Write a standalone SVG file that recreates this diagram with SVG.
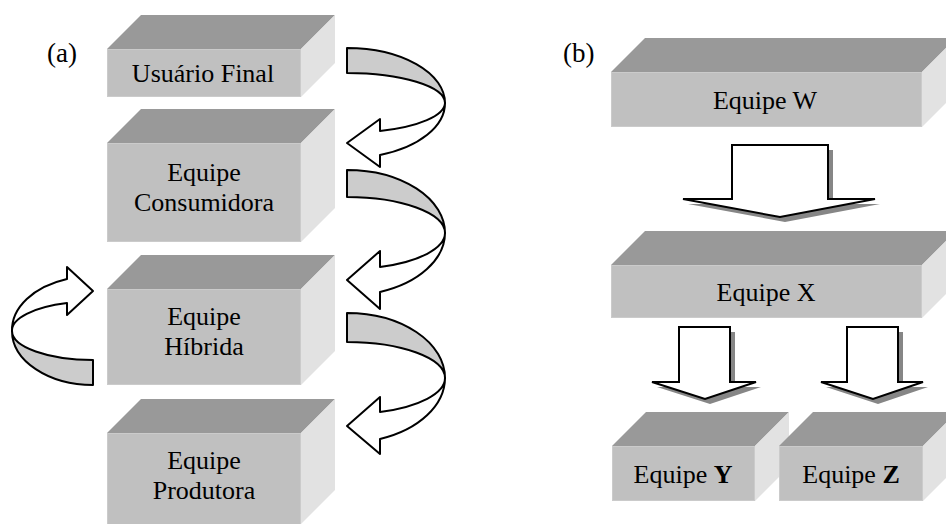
<svg xmlns="http://www.w3.org/2000/svg" width="946" height="524" viewBox="0 0 946 524">
  <style>
    .top{fill:#999999}
    .front{fill:#c0c0c0;stroke:#cbcbcb;stroke-width:1}
    .side{fill:#e2e2e2}
    .lbl{font-family:"Liberation Serif","Times New Roman",serif;font-size:26px;fill:#000;text-anchor:middle}
    .tag{font-family:"Liberation Serif","Times New Roman",serif;font-size:27px;fill:#000}
    .band{fill:#cccccc;stroke:#000;stroke-width:2;stroke-linejoin:round}
    .face{fill:#ffffff;stroke:#000;stroke-width:2;stroke-linejoin:round}
    .shadow{fill:#868686}
    .down{fill:#ffffff;stroke:#000;stroke-width:2;stroke-linejoin:miter}
  </style>

  <rect width="946" height="524" fill="#ffffff"/>

  <text class="tag" x="47" y="62">(a)</text>
  <text class="tag" x="563" y="62">(b)</text>

  <!-- (a) stacked teams -->
  <g id="usuario-final">
    <polygon class="top" points="107,49 141,15 335,15 301,49"/>
    <polygon class="side" points="301,49 335,15 335,63 301,97"/>
    <rect class="front" x="107.5" y="49.5" width="193" height="47"/>
    <text class="lbl" x="203" y="82">Usuário Final</text>
  </g>

  <g id="equipe-consumidora">
    <polygon class="top" points="107,143 141,109 335,109 301,143"/>
    <polygon class="side" points="301,143 335,109 335,208 301,242"/>
    <rect class="front" x="107.5" y="143.5" width="193" height="98"/>
    <text class="lbl" x="204" y="181">Equipe</text>
    <text class="lbl" x="204" y="211">Consumidora</text>
  </g>

  <g id="equipe-hibrida">
    <polygon class="top" points="107,289 141,255 335,255 301,289"/>
    <polygon class="side" points="301,289 335,255 335,351 301,385"/>
    <rect class="front" x="107.5" y="289.5" width="193" height="95"/>
    <text class="lbl" x="204" y="325">Equipe</text>
    <text class="lbl" x="204" y="355">Híbrida</text>
  </g>

  <g id="equipe-produtora">
    <polygon class="top" points="107,433 141,399 335,399 301,433"/>
    <polygon class="side" points="301,433 335,399 335,490 301,524"/>
    <rect class="front" x="107.5" y="433.5" width="193" height="91"/>
    <text class="lbl" x="204" y="469">Equipe</text>
    <text class="lbl" x="204" y="499">Produtora</text>
  </g>

  <!-- (b) team hierarchy -->
  <g id="equipe-w">
    <polygon class="top" points="611,72 645,38 956,38 922,72"/>
    <polygon class="side" points="922,72 956,38 956,93 922,127"/>
    <rect class="front" x="611.5" y="72.5" width="310" height="54"/>
    <text class="lbl" x="765" y="109">Equipe W</text>
  </g>

  <g id="equipe-x">
    <polygon class="top" points="611,265 645,231 956,231 922,265"/>
    <polygon class="side" points="922,265 956,231 956,284 922,318"/>
    <rect class="front" x="611.5" y="265.5" width="310" height="52"/>
    <text class="lbl" x="766" y="301">Equipe X</text>
  </g>

  <g id="equipe-y">
    <polygon class="top" points="612,446 646,412 789,412 755,446"/>
    <polygon class="side" points="755,446 789,412 789,467 755,501"/>
    <rect class="front" x="612.5" y="446.5" width="142" height="54"/>
    <text class="lbl" x="683" y="483">Equipe <tspan font-weight="bold">Y</tspan></text>
  </g>

  <g id="equipe-z">
    <polygon class="top" points="779,446 813,412 957,412 923,446"/>
    <polygon class="side" points="923,446 957,412 957,467 923,501"/>
    <rect class="front" x="779.5" y="446.5" width="143" height="54"/>
    <text class="lbl" x="851" y="483">Equipe <tspan font-weight="bold">Z</tspan></text>
  </g>

  <g id="connectors">
    <!-- curved ribbon arrows, right column: back strip in gray, front strip with head in white -->
    <path class="band" d="M347,48 A98,55 0 0 1 445,103 A98,30 0 0 0 347,73 Z"/>
    <path class="face" d="M445,103 A98,55 0 0 1 380,155 L380,167 L347,143 L380,119 L380,131 A98,30 0 0 0 445,103 Z"/>

    <path class="band" d="M347,170 A98,63 0 0 1 445,233 A98,36 0 0 0 347,197 Z"/>
    <path class="face" d="M445,233 A98,63 0 0 1 380,292 L380,309 L347,280 L380,251 L380,267 A98,36 0 0 0 445,233 Z"/>

    <path class="band" d="M347,313 A98,65 0 0 1 445,378 A98,36 0 0 0 347,342 Z"/>
    <path class="face" d="M445,378 A98,65 0 0 1 380,439 L380,454 L347,426 L380,397 L380,412 A98,36 0 0 0 445,378 Z"/>

    <!-- loop arrow on the left of the hybrid team -->
    <path class="band" d="M93,385 A81,54 0 0 1 12,331 A81,29 0 0 0 93,360 Z"/>
    <path class="face" d="M12,331 A81,54 0 0 1 67,279 L67,267 L93,291 L67,315 L67,303 A81,29 0 0 0 12,331 Z"/>

    <!-- block arrows with drop shadow -->
    <polygon class="shadow" points="737,150 833,150 833,204 880,204 785,222 688,204 737,204"/>
    <polygon class="down" points="732,145 828,145 828,199 875,199 780,217 683,199 732,199"/>

    <polygon class="shadow" points="684,332 735,332 735,387 761,387 710,404 657,387 684,387"/>
    <polygon class="down" points="679,327 730,327 730,382 756,382 705,399 652,382 679,382"/>

    <polygon class="shadow" points="852,332 903,332 903,387 928,387 878,404 826,387 852,387"/>
    <polygon class="down" points="847,327 898,327 898,382 923,382 873,399 821,382 847,382"/>
  </g>
</svg>
